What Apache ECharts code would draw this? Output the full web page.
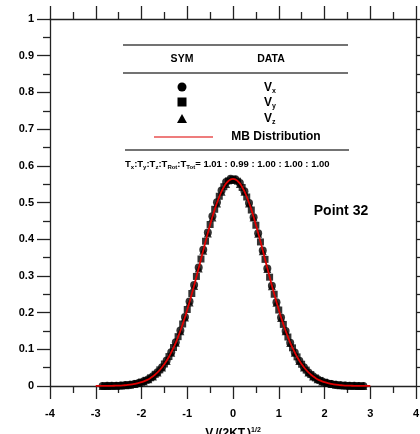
<!DOCTYPE html>
<html><head><meta charset="utf-8">
<script src="https://cdn.jsdelivr.net/npm/echarts@6/dist/echarts.min.js"></script>
<style>html,body{margin:0;padding:0;background:#fff}#c{width:420px;height:434px}</style>
</head><body><div id="c"></div>
<script>
const xHalf = [-2.85,-2.75,-2.65,-2.55,-2.45,-2.35,-2.25,-2.15,-2.05,-1.95,-1.85,-1.75,-1.65,-1.55,-1.45,-1.35,-1.25,-1.15,-1.05,-0.95,-0.85,-0.75,-0.65,-0.55,-0.45,-0.35,-0.25,-0.15,-0.05,
  0.05,0.15,0.25,0.35,0.45,0.55,0.65,0.75,0.85,0.95,1.05,1.15,1.25,1.35,1.45,1.55,1.65,1.75,1.85,1.95,2.05,2.15,2.25,2.35,2.45,2.55,2.65,2.75,2.85];
const xTenth = [-2.8,-2.7,-2.6,-2.5,-2.4,-2.3,-2.2,-2.1,-2.0,-1.9,-1.8,-1.7,-1.6,-1.5,-1.4,-1.3,-1.2,-1.1,-1.0,-0.9,-0.8,-0.7,-0.6,-0.5,-0.4,-0.3,-0.2,-0.1,0,
  0.1,0.2,0.3,0.4,0.5,0.6,0.7,0.8,0.9,1.0,1.1,1.2,1.3,1.4,1.5,1.6,1.7,1.8,1.9,2.0,2.1,2.2,2.3,2.4,2.5,2.6,2.7,2.8];
const vxVals = [0.0002,0.0004,0.0005,0.0009,0.0015,0.0024,0.0037,0.0056,0.0086,0.0128,0.0186,0.0268,0.0375,0.0514,0.0695,0.0918,0.1190,0.1512,0.1880,0.2300,0.2750,0.3230,0.3710,0.4185,0.4625,0.5010,0.5330,0.5560,0.5650,
  0.5635,0.5530,0.5305,0.4985,0.4600,0.4160,0.3690,0.3205,0.2730,0.2280,0.1868,0.1500,0.1180,0.0910,0.0688,0.0508,0.0370,0.0263,0.0183,0.0125,0.0084,0.0055,0.0036,0.0023,0.0014,0.0008,0.0005,0.0003,0.0002];
const vyVals = [0.0002,0.0004,0.0007,0.0011,0.0018,0.0029,0.0046,0.0070,0.0105,0.0155,0.0224,0.0318,0.0440,0.0600,0.0802,0.1048,0.1345,0.1690,0.2085,0.2520,0.2985,0.3460,0.3945,0.4400,0.4815,0.5170,0.5430,0.5590,0.5630,
  0.5580,0.5410,0.5150,0.4795,0.4380,0.3925,0.3450,0.2965,0.2500,0.2070,0.1678,0.1335,0.1040,0.0794,0.0593,0.0434,0.0312,0.0220,0.0152,0.0103,0.0069,0.0045,0.0028,0.0018,0.0011,0.0007,0.0004,0.0002];
const vzVals = [0.0002,0.0003,0.0005,0.0008,0.0014,0.0023,0.0036,0.0055,0.0083,0.0125,0.0182,0.0262,0.0368,0.0507,0.0684,0.0906,0.1176,0.1495,0.1866,0.2278,0.2728,0.3200,0.3686,0.4155,0.4592,0.4975,0.5290,0.5505,0.5615,
  0.5620,0.5505,0.5290,0.4975,0.4590,0.4150,0.3675,0.3190,0.2715,0.2265,0.1855,0.1490,0.1172,0.0904,0.0682,0.0505,0.0368,0.0262,0.0182,0.0124,0.0083,0.0054,0.0035,0.0022,0.0014,0.0008,0.0005,0.0003,0.0002];
const mbX = [-3.0,-2.9,-2.8,-2.7,-2.6,-2.5,-2.4,-2.3,-2.2,-2.1,-2.0,-1.9,-1.8,-1.7,-1.6,-1.5,-1.4,-1.3,-1.2,-1.1,-1.0,-0.9,-0.8,-0.7,-0.6,-0.5,-0.4,-0.3,-0.2,-0.1,0,
  0.1,0.2,0.3,0.4,0.5,0.6,0.7,0.8,0.9,1.0,1.1,1.2,1.3,1.4,1.5,1.6,1.7,1.8,1.9,2.0,2.1,2.2,2.3,2.4,2.5,2.6,2.7,2.8,2.9,3.0];
const mbVals = [0.0001,0.0001,0.0002,0.0004,0.0007,0.0011,0.0018,0.0028,0.0045,0.0069,0.0103,0.0153,0.0221,0.0314,0.0436,0.0595,0.0795,0.1041,0.1337,0.1682,0.2076,0.2510,0.2975,0.3456,0.3936,0.4394,0.4808,0.5156,0.5421,0.5586,0.5642,
  0.5586,0.5421,0.5156,0.4808,0.4394,0.3936,0.3456,0.2975,0.2510,0.2076,0.1682,0.1337,0.1041,0.0795,0.0595,0.0436,0.0314,0.0221,0.0153,0.0103,0.0069,0.0045,0.0028,0.0018,0.0011,0.0007,0.0004,0.0002,0.0001,0.0001];
const xTicks = {min:-4, max:4, interval:1};
const yTicks = {min:0, max:1, interval:0.1};

const pair = (xs, ys) => xs.map((x,i)=>[x, ys[i]]);
const FONT = 'Liberation Sans, Arial, sans-serif';
const lineC = '#222';
const axisCommon = {
  axisLine:{show:true, onZero:false, lineStyle:{color:lineC, width:1.3}},
  axisTick:{show:true, inside:false, length:13, lineStyle:{color:lineC, width:1.3}},
  minorTick:{show:true, splitNumber:2, length:7, lineStyle:{color:lineC, width:1.3}},
  splitLine:{show:false}
};
const labelStyle = {color:'#000', fontFamily:FONT, fontWeight:'bold', fontSize:11};
const chart = echarts.init(document.getElementById('c'));
const rich = {
  m:{fontFamily:FONT, fontWeight:'bold', fontSize:12, color:'#000', lineHeight:14, verticalAlign:'middle'},
  s:{fontFamily:FONT, fontWeight:'bold', fontSize:7, color:'#000', lineHeight:7, verticalAlign:'bottom'},
  sup:{fontFamily:FONT, fontWeight:'bold', fontSize:7, color:'#000', lineHeight:7, verticalAlign:'top'},
  t:{fontFamily:FONT, fontWeight:'bold', fontSize:9.5, color:'#000', lineHeight:12, verticalAlign:'middle'},
  ts:{fontFamily:FONT, fontWeight:'bold', fontSize:6, color:'#000', lineHeight:6, verticalAlign:'bottom'}
};
const rule = (x1,x2,y) => ({type:'line', shape:{x1,y1:y,x2,y2:y}, style:{stroke:'#444', lineWidth:1.5}, z:10});
chart.setOption({
  animation:false,
  grid:{left:50, right:4, top:19, bottom:48, containLabel:false, outerBoundsMode:'none'},
  xAxis:[
    Object.assign({type:'value', position:'bottom', min:xTicks.min, max:xTicks.max, interval:xTicks.interval,
      axisLabel:Object.assign({margin:22}, labelStyle),
      name:'{m|V}{s|i}{m|/(2KT}{s|i}{m|)}{sup|1/2}', nameLocation:'middle', nameGap:41,
      nameTextStyle:{rich:rich}
    }, axisCommon),
    Object.assign({type:'value', position:'top', min:xTicks.min, max:xTicks.max, interval:xTicks.interval, axisLabel:{show:false}}, axisCommon)
  ],
  yAxis:[
    Object.assign({type:'value', position:'left', min:yTicks.min, max:yTicks.max, interval:yTicks.interval,
      axisLabel:Object.assign({margin:16, formatter:v=>String(Math.round(v*10)/10)}, labelStyle)}, axisCommon),
    Object.assign({type:'value', position:'right', min:yTicks.min, max:yTicks.max, interval:yTicks.interval, axisLabel:{show:false}}, axisCommon)
  ],
  series:[
    {name:'Vx', type:'scatter', symbol:'circle', symbolSize:8, itemStyle:{color:'#000'}, data:pair(xHalf, vxVals), z:2},
    {name:'Vy', type:'scatter', symbol:'rect', symbolSize:7, itemStyle:{color:'#000'}, data:pair(xTenth, vyVals), z:2},
    {name:'Vz', type:'scatter', symbol:'triangle', symbolSize:8, itemStyle:{color:'#000'}, data:pair(xHalf, vzVals), z:2},
    {name:'MB Distribution', type:'line', showSymbol:false, symbol:'none', smooth:true, lineStyle:{color:'#e00000', width:1.8}, data:pair(mbX, mbVals), z:5}
  ],
  graphic:[
    rule(123,348,45), rule(123,348,73), rule(125,349,150),
    {type:'text', x:182, y:59, style:{text:'SYM', font:'bold 10.5px '+FONT, fill:'#000', align:'center', verticalAlign:'middle'}},
    {type:'text', x:271, y:59, style:{text:'DATA', font:'bold 10.5px '+FONT, fill:'#000', align:'center', verticalAlign:'middle'}},
    {type:'circle', shape:{cx:182, cy:87, r:4.5}, style:{fill:'#000'}},
    {type:'rect', shape:{x:177.5, y:97.5, width:9, height:9}, style:{fill:'#000'}},
    {type:'polygon', shape:{points:[[182,114],[177,123],[187,123]]}, style:{fill:'#000'}},
    {type:'text', x:264, y:88, style:{text:'{m|V}{s|x}', rich:rich, verticalAlign:'middle'}},
    {type:'text', x:264, y:103, style:{text:'{m|V}{s|y}', rich:rich, verticalAlign:'middle'}},
    {type:'text', x:264, y:119, style:{text:'{m|V}{s|z}', rich:rich, verticalAlign:'middle'}},
    {type:'line', shape:{x1:154, y1:137, x2:213, y2:137}, style:{stroke:'#e85050', lineWidth:1.5}},
    {type:'text', x:276, y:137, style:{text:'MB Distribution', font:'bold 12px '+FONT, fill:'#000', align:'center', verticalAlign:'middle'}},
    {type:'text', x:125, y:164, style:{text:'{t|T}{ts|x}{t|:T}{ts|y}{t|:T}{ts|z}{t|:T}{ts|Rot}{t|:T}{ts|Tot}{t|= 1.01 : 0.99 : 1.00 : 1.00 : 1.00}', rich:rich, verticalAlign:'middle'}},
    {type:'text', x:341, y:211, style:{text:'Point 32', font:'bold 14px '+FONT, fill:'#000', align:'center', verticalAlign:'middle'}}
  ]
});
</script></body></html>
